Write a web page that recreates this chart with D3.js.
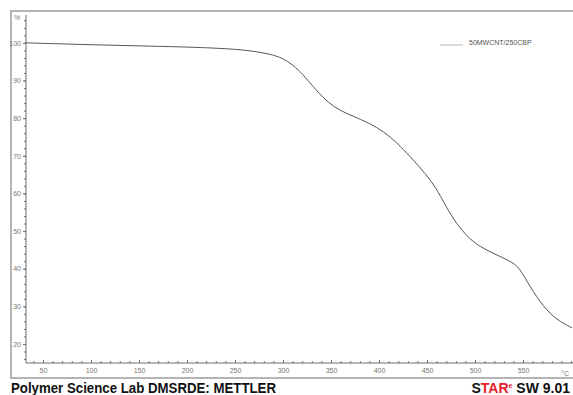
<!DOCTYPE html>
<html>
<head>
<meta charset="utf-8">
<script src="https://cdn.jsdelivr.net/npm/d3@7"></script>
<style>
  html, body { margin: 0; padding: 0; background: #fff; }
  svg { display: block; }
</style>
</head>
<body>
<div id="chart"></div>
<script>
// TGA curve, weight % vs temperature
const width = 573, height = 395;

const temps   = [32, 60, 100, 150, 200, 230, 250, 266, 286, 300, 310, 321, 331, 342, 352, 367, 380, 398, 412, 425, 440, 456, 467, 477, 492, 505, 523, 540, 547, 557, 571, 585, 601];
const weights = [100.0, 99.8, 99.5, 99.2, 98.9, 98.6, 98.3, 97.9, 97.1, 95.9, 94.2, 91.6, 88.4, 85.4, 83.1, 81.1, 79.8, 77.6, 75.0, 71.8, 67.7, 62.9, 57.9, 53.2, 48.4, 45.8, 43.6, 41.6, 39.9, 35.3, 29.9, 26.4, 24.3];
const yMajor = [20, 30, 40, 50, 60, 70, 80, 90, 100];
const xMajor = [50, 100, 150, 200, 250, 300, 350, 400, 450, 500, 550];
const seriesName = "50MWCNT/250CBP";

const data = temps.map((t, i) => ({t, w: weights[i]}));

const svg = d3.select("#chart").append("svg").attr("width", width).attr("height", height);

const x = d3.scaleLinear().domain([32.3, 602]).range([26, 573]);
const y = d3.scaleLinear().domain([14.95, 107.4]).range([363, 15]);

// outer frame
svg.append("rect").attr("x", 11).attr("y", 11).attr("width", 580).attr("height", 367)
  .attr("fill", "none").attr("stroke", "#b4b4b4").attr("stroke-width", 2);

const axisColor = "#6e6e6e", labelColor = "#777";

// y axis
const yAx = svg.append("g").attr("transform", "translate(26,0)");
yAx.append("line").attr("x1", 0).attr("x2", 0).attr("y1", 15).attr("y2", 363).attr("stroke", axisColor);
yAx.call(g => g.append("g")
  .call(d3.axisLeft(y).tickValues(d3.range(16, 107, 2)).tickSize(2).tickFormat(""))
  .call(a => a.select(".domain").remove())
  .selectAll("line").attr("stroke", axisColor));
yAx.append("g")
  .call(d3.axisLeft(y).tickValues(yMajor).tickSize(3).tickPadding(2).tickFormat(d3.format("d")))
  .call(a => a.select(".domain").remove())
  .call(a => a.selectAll("line").attr("stroke", axisColor))
  .call(a => a.selectAll("text").attr("fill", labelColor).style("font", "7px 'Liberation Sans', Arial, sans-serif"));
svg.append("text").attr("x", 14).attr("y", 20).attr("fill", labelColor)
  .style("font", "7px 'Liberation Sans', Arial, sans-serif").text("%");

// x axis
const xAx = svg.append("g").attr("transform", "translate(0,363)");
xAx.append("line").attr("x1", 26).attr("x2", 573).attr("y1", 0).attr("y2", 0).attr("stroke", axisColor);
xAx.append("g")
  .call(d3.axisBottom(x).tickValues(d3.range(40, 601, 10)).tickSizeInner(-2).tickSizeOuter(0).tickFormat(""))
  .call(a => a.select(".domain").remove())
  .selectAll("line").attr("stroke", axisColor);
xAx.append("g")
  .call(d3.axisBottom(x).tickValues(xMajor).tickSizeInner(-3).tickSizeOuter(0).tickPadding(5).tickFormat(d3.format("d")))
  .call(a => a.select(".domain").remove())
  .call(a => a.selectAll("line").attr("stroke", axisColor))
  .call(a => a.selectAll("text").attr("fill", labelColor).style("font", "7px 'Liberation Sans', Arial, sans-serif"));
xAx.append("text").attr("x", x(600) - 6).attr("y", 13).attr("text-anchor", "middle").attr("fill", labelColor)
  .style("font", "7px 'Liberation Sans', Arial, sans-serif").text("°C");

// curve
const line = d3.line().x(d => x(d.t)).y(d => y(d.w)).curve(d3.curveBasis);
svg.append("path").datum(data).attr("d", line)
  .attr("fill", "none").attr("stroke", "#555").attr("stroke-width", 1);

// legend
svg.append("line").attr("x1", 440).attr("x2", 463).attr("y1", 45).attr("y2", 45)
  .attr("stroke", "#b8b8b8").attr("stroke-width", 1);
svg.append("text").attr("x", 469).attr("y", 45).attr("fill", "#555")
  .style("font", "7px 'Liberation Sans', Arial, sans-serif").text(seriesName);

// footer
svg.append("text").attr("x", 11).attr("y", 393)
  .attr("textLength", 265).attr("lengthAdjust", "spacingAndGlyphs")
  .style("font", "bold 14px 'Liberation Sans', Arial, sans-serif").attr("fill", "#111")
  .text("Polymer Science Lab DMSRDE: METTLER");

const star = svg.append("text").attr("x", 570).attr("y", 393).attr("text-anchor", "end")
  .style("font", "bold 14px 'Liberation Sans', Arial, sans-serif").attr("fill", "#111");
star.append("tspan").text("S");
star.append("tspan").attr("fill", "#e8202a").text("TAR");
star.append("tspan").attr("fill", "#e8202a").attr("font-size", "7px").attr("dy", -5).text("e");
star.append("tspan").attr("dy", 5).text(" SW 9.01");
</script>
</body>
</html>
